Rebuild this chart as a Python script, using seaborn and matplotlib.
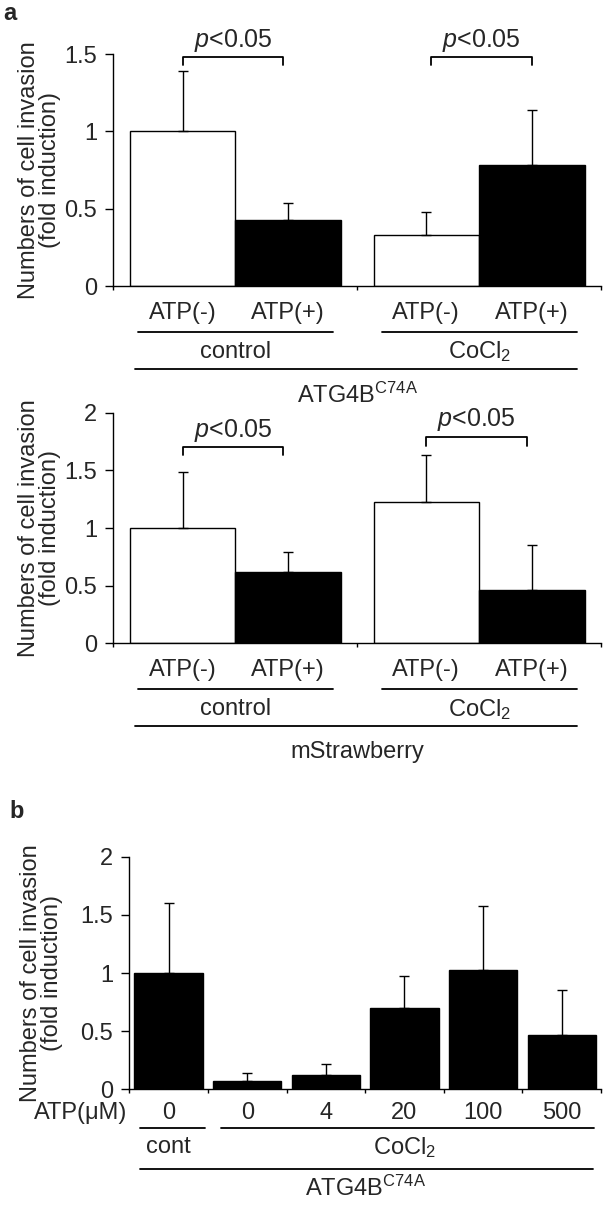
import matplotlib
matplotlib.use('Agg')
import matplotlib.pyplot as plt
import matplotlib.transforms as mtransforms
import seaborn as sns
import pandas as pd

# panel a: two conditions x ATP(-)/ATP(+), values left to right
groups = ['control', 'CoCl2']
atp_levels = ['ATP(-)', 'ATP(+)']
atg_mean = [1.00, 0.43, 0.33, 0.78]
atg_err = [0.39, 0.11, 0.15, 0.36]
mst_mean = [1.00, 0.62, 1.23, 0.46]
mst_err = [0.49, 0.17, 0.40, 0.39]

# panel b: ATP dose series
b_labels = ['0', '0', '4', '20', '100', '500']
b_mean = [1.00, 0.07, 0.12, 0.70, 1.03, 0.47]
b_err = [0.60, 0.07, 0.10, 0.27, 0.55, 0.38]

sns.set_style('ticks')
plt.rcParams['font.family'] = ['Liberation Sans', 'DejaVu Sans']
plt.rcParams['mathtext.fontset'] = 'custom'
plt.rcParams['mathtext.rm'] = 'Liberation Sans'
plt.rcParams['mathtext.it'] = 'Liberation Sans:italic'
plt.rcParams['axes.linewidth'] = 1.0
plt.rcParams['axes.edgecolor'] = 'black'

FS = 17
fig = plt.figure(figsize=(6.08, 12.09), dpi=100)


def below_text(ax, x, px, s, **kw):
    ax.annotate(s, xy=(x, 0), xycoords=('data', 'axes fraction'),
                xytext=(0, -px * 0.72), textcoords='offset points',
                ha='center', va='center', fontsize=FS, annotation_clip=False, **kw)


def below_line(ax, x0, x1, px):
    tr = mtransforms.offset_copy(ax.get_xaxis_transform(), fig=fig,
                                 y=-px * 0.72, units='points')
    ax.plot([x0, x1], [0, 0], color='black', lw=1.3, transform=tr, clip_on=False)


def bracket(ax, x0, x1, y, leg, ytext):
    ax.plot([x0, x0, x1, x1], [leg, y, y, leg], color='black', lw=1.3, clip_on=False)
    ax.text((x0 + x1) / 2, ytext, '$p$<0.05', ha='center', va='center',
            fontsize=FS + 1, clip_on=False)


def style_axes(ax, ymax, yticks, xmax):
    ax.set_ylim(0, ymax)
    ax.set_xlim(-0.5, xmax)
    ax.set_yticks(yticks, ['{:g}'.format(t) for t in yticks])
    ax.set_xticks([i - 0.5 for i in range(int(xmax + 0.5) + 1)], [])
    ax.tick_params(axis='y', length=5.8, width=1, pad=6, labelsize=FS, color='black')
    ax.tick_params(axis='x', length=3, width=1, color='black')
    ax.set_xlabel('')
    ax.set_ylabel('Numbers of cell invasion\n(fold induction)', fontsize=FS,
                  linespacing=0.95)
    sns.despine(ax=ax)


def grouped_panel(ax, means, errs, ymax, yticks):
    df = pd.DataFrame({'group': [g for g in groups for _ in atp_levels],
                       'atp': atp_levels * len(groups),
                       'value': means})
    sns.barplot(data=df, x='group', y='value', hue='atp', hue_order=atp_levels,
                palette={'ATP(-)': 'white', 'ATP(+)': 'black'}, width=0.866,
                edgecolor='black', linewidth=1, errorbar=None, legend=False, ax=ax)
    bars = sorted(ax.patches, key=lambda p: p.get_x())
    xs = [p.get_x() + p.get_width() / 2 for p in bars]
    ax.errorbar(xs, [p.get_height() for p in bars], yerr=[[0] * len(errs), errs],
                fmt='none', ecolor='black', elinewidth=1, capsize=3.5, capthick=1)
    style_axes(ax, ymax, yticks, 1.5)
    ax.yaxis.set_label_coords(-0.108, 0.5)
    for x, lab in zip(xs, atp_levels * len(groups)):
        below_text(ax, x, 27, lab)
    for i, g in enumerate(groups):
        below_line(ax, i - 0.4, i + 0.4, 46)
        below_text(ax, i, 66, 'CoCl$_2$' if g == 'CoCl2' else g)
    below_line(ax, -0.41, 1.4, 83)
    return xs


# panel a, top
ax1 = fig.add_axes([0.1865, 0.7634, 0.802, 0.1919])
xs1 = grouped_panel(ax1, atg_mean, atg_err, 1.5, [0, 0.5, 1, 1.5])
below_text(ax1, 0.5, 109, r'ATG4B$^{\mathrm{C74A}}$')
bracket(ax1, xs1[0], xs1[1] - 0.02, 1.478, 1.43, 1.59)
bracket(ax1, xs1[2] + 0.02, xs1[3], 1.478, 1.43, 1.59)

# panel a, bottom
ax2 = fig.add_axes([0.1865, 0.4679, 0.802, 0.1907])
xs2 = grouped_panel(ax2, mst_mean, mst_err, 2, [0, 0.5, 1, 1.5, 2])
below_text(ax2, 0.5, 109, 'mStrawberry')
bracket(ax2, xs2[0], xs2[1] - 0.02, 1.70, 1.63, 1.85)
bracket(ax2, xs2[2], xs2[3] - 0.02, 1.79, 1.71, 1.94)

# panel b
ax3 = fig.add_axes([0.2127, 0.0990, 0.7758, 0.1924])
dfb = pd.DataFrame({'pos': list(range(len(b_labels))), 'value': b_mean})
sns.barplot(data=dfb, x='pos', y='value', color='black', width=0.87,
            edgecolor='black', linewidth=1, errorbar=None, ax=ax3)
bars = sorted(ax3.patches, key=lambda p: p.get_x())
xsb = [p.get_x() + p.get_width() / 2 for p in bars]
ax3.errorbar(xsb, [p.get_height() for p in bars], yerr=[[0] * len(b_err), b_err],
             fmt='none', ecolor='black', elinewidth=1, capsize=3.5, capthick=1)
style_axes(ax3, 2, [0, 0.5, 1, 1.5, 2], 5.5)
ax3.yaxis.set_label_coords(-0.14, 0.5)
for x, lab in zip(xsb, b_labels):
    below_text(ax3, x, 24, lab)
ax3.annotate('ATP(μM)', xy=(0, 0), xycoords='axes fraction',
             xytext=(-1.5, -24 * 0.72), textcoords='offset points',
             ha='right', va='center', fontsize=FS, annotation_clip=False)
below_line(ax3, -0.36, 0.46, 39)
below_line(ax3, 0.67, 5.41, 39)
below_text(ax3, 0, 58, 'cont')
below_text(ax3, 3, 58, 'CoCl$_2$')
below_line(ax3, -0.36, 5.40, 80)
below_text(ax3, 2.5, 99, r'ATG4B$^{\mathrm{C74A}}$')

fig.text(10 / 608, 1 - 13 / 1209, 'a', fontsize=FS, fontweight='bold',
         ha='center', va='center')
fig.text(17 / 608, 1 - 812 / 1209, 'b', fontsize=FS, fontweight='bold',
         ha='center', va='center')

fig.savefig('out.png', dpi=100, facecolor='white')
